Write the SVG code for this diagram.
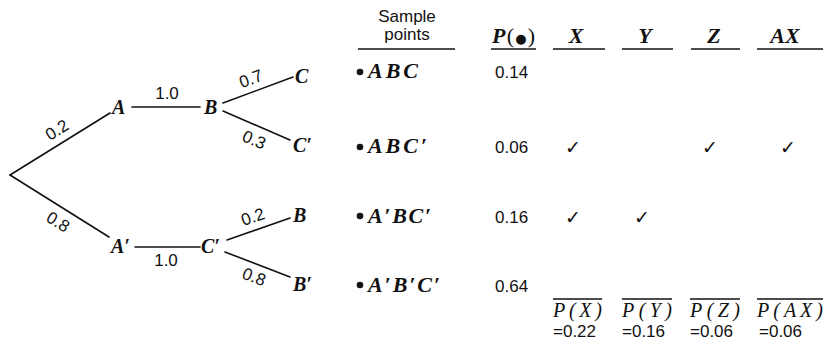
<svg xmlns="http://www.w3.org/2000/svg" width="824" height="350" viewBox="0 0 824 350">
<style>
.ln{stroke:#111;stroke-width:1.6;fill:none;stroke-linecap:round}
.ul{stroke:#111;stroke-width:1.3;fill:none}
.tv{font-family:"Liberation Serif",serif;font-style:italic;font-weight:bold;font-size:20px;fill:#111}
.tb{font-family:"Liberation Serif",serif;font-style:italic;font-weight:bold;font-size:22px;fill:#111}
.nm{font-family:"Liberation Sans",Arial,sans-serif;font-size:17px;fill:#111}
.pl{font-family:"Liberation Serif",serif;font-style:italic;font-size:20px;fill:#111}
.ck{font-family:"DejaVu Sans",sans-serif;font-size:19px;font-style:italic;fill:#111;text-anchor:middle}
</style>
<rect width="824" height="350" fill="#fff"/>
<g id="connectors">
<line class="ln" x1="10" y1="175" x2="110" y2="113"/>
<line class="ln" x1="10" y1="175" x2="109" y2="237"/>
<line class="ln" x1="132" y1="107" x2="200" y2="107"/>
<line class="ln" x1="223" y1="103" x2="293" y2="77"/>
<line class="ln" x1="223" y1="111" x2="290" y2="140"/>
<line class="ln" x1="135" y1="247" x2="200" y2="247"/>
<line class="ln" x1="227" y1="240" x2="290" y2="218"/>
<line class="ln" x1="225" y1="252" x2="290" y2="277"/>
</g>
<g id="edge-labels" class="nm" text-anchor="middle" dominant-baseline="central">
<text transform="translate(57,130) rotate(-32)">0.2</text>
<text transform="translate(58,222) rotate(32)">0.8</text>
<text x="167" y="93">1.0</text>
<text transform="translate(251,79) rotate(-20)">0.7</text>
<text transform="translate(254,140) rotate(23)">0.3</text>
<text x="166" y="260">1.0</text>
<text transform="translate(253,217) rotate(-19)">0.2</text>
<text transform="translate(254,277) rotate(21)">0.8</text>
</g>
<g id="node-A"><text class="tv" x="112" y="114">A</text></g>
<g id="node-B"><text class="tv" x="204" y="114">B</text></g>
<g id="node-C"><text class="tv" x="295" y="83">C</text></g>
<g id="node-C1"><text class="tv" x="293" y="152">C′</text></g>
<g id="node-A1"><text class="tv" x="111" y="253">A′</text></g>
<g id="node-C2"><text class="tv" x="201" y="253">C′</text></g>
<g id="node-B2"><text class="tv" x="293" y="222">B</text></g>
<g id="node-B3"><text class="tv" x="293" y="291">B′</text></g>
<g id="header">
<text class="nm" x="407" y="22" text-anchor="middle" font-size="16">Sample</text>
<text class="nm" x="407" y="40" text-anchor="middle" font-size="16">points</text>
<text class="tb" x="492" y="43" textLength="43" lengthAdjust="spacing">P<tspan font-style="normal" font-weight="normal">(</tspan><tspan font-family="'DejaVu Sans',sans-serif" font-style="normal" font-size="13">●</tspan><tspan font-style="normal" font-weight="normal">)</tspan></text>
<text class="tb" x="576" y="43" text-anchor="middle">X</text>
<text class="tb" x="645" y="43" text-anchor="middle">Y</text>
<text class="tb" x="714" y="43" text-anchor="middle">Z</text>
<text class="tb" x="785" y="43" text-anchor="middle">AX</text>
<line class="ul" x1="358" y1="49" x2="455" y2="49"/>
<line class="ul" x1="491" y1="49" x2="536" y2="49"/>
<line class="ul" x1="553" y1="49" x2="605" y2="49"/>
<line class="ul" x1="622" y1="49" x2="673" y2="49"/>
<line class="ul" x1="691" y1="49" x2="740" y2="49"/>
<line class="ul" x1="757" y1="49" x2="823" y2="49"/>
</g>
<g id="row-ABC">
<circle cx="360" cy="72" r="3.3" fill="#111"/>
<text class="tb" x="368" y="78" textLength="50" lengthAdjust="spacing">ABC</text>
<text class="nm" x="495" y="78">0.14</text>
</g>
<g id="row-ABC1">
<circle cx="360" cy="147" r="3.3" fill="#111"/>
<text class="tb" x="368" y="153" textLength="59" lengthAdjust="spacing">ABC′</text>
<text class="nm" x="495" y="153">0.06</text>
<text class="ck" x="573" y="154">✓</text>
<text class="ck" x="710" y="154">✓</text>
<text class="ck" x="788" y="154">✓</text>
</g>
<g id="row-A1BC1">
<circle cx="360" cy="216" r="3.3" fill="#111"/>
<text class="tb" x="368" y="223" textLength="63" lengthAdjust="spacing">A′BC′</text>
<text class="nm" x="495" y="223">0.16</text>
<text class="ck" x="573" y="224">✓</text>
<text class="ck" x="642" y="224">✓</text>
</g>
<g id="row-A1B1C1">
<circle cx="360" cy="285" r="3.3" fill="#111"/>
<text class="tb" x="368" y="292" textLength="72" lengthAdjust="spacing">A′B′C′</text>
<text class="nm" x="495" y="292">0.64</text>
</g>
<g id="totals">
<line class="ul" x1="553" y1="299" x2="602" y2="299"/>
<line class="ul" x1="622" y1="299" x2="672" y2="299"/>
<line class="ul" x1="690" y1="299" x2="740" y2="299"/>
<line class="ul" x1="757" y1="299" x2="823" y2="299"/>
<text class="pl" x="553" y="317" textLength="49" lengthAdjust="spacing">P(X)</text>
<text class="pl" x="622" y="317" textLength="50" lengthAdjust="spacing">P(Y)</text>
<text class="pl" x="690" y="317" textLength="50" lengthAdjust="spacing">P(Z)</text>
<text class="pl" x="757" y="317" textLength="66" lengthAdjust="spacing">P(AX)</text>
<text class="nm" x="553" y="337" font-size="16">=0.22</text>
<text class="nm" x="622" y="337" font-size="16">=0.16</text>
<text class="nm" x="690" y="337" font-size="16">=0.06</text>
<text class="nm" x="759" y="337" font-size="16">=0.06</text>
</g>
</svg>
